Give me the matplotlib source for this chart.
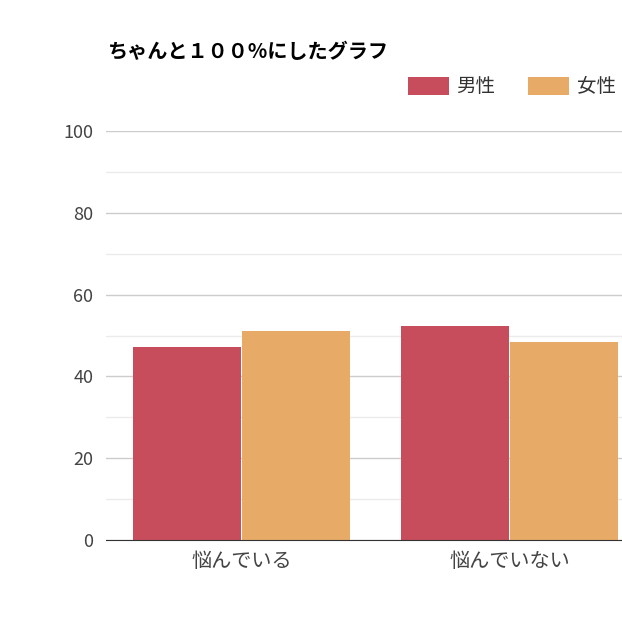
import numpy as np
import matplotlib
matplotlib.use('Agg')
import matplotlib.pyplot as plt
from matplotlib.ticker import MultipleLocator

plt.rcParams['font.family'] = ['Noto Sans CJK JP', 'DejaVu Sans']

categories = ['悩んでいる', '悩んでいない']
male = [47.3, 52.3]
female = [51.1, 48.4]
series_names = ['男性', '女性']
colors = ['#c74d5c', '#e8ab67']

fig = plt.figure(figsize=(6.22, 6.4), dpi=100)
ax = fig.add_axes([106 / 622, 100 / 640, 516 / 622, 409 / 640])

x = np.arange(len(categories))
w = 0.402
ax.bar(x - w / 2 - 0.002, male, w, color=colors[0], label=series_names[0], zorder=3)
ax.bar(x + w / 2 + 0.002, female, w, color=colors[1], label=series_names[1], zorder=3)

ax.set_xlim(-0.506, 1.42)
ax.set_ylim(0, 100)
ax.yaxis.set_major_locator(MultipleLocator(20))
ax.yaxis.set_minor_locator(MultipleLocator(10))
ax.grid(True, which='major', axis='y', color='#cccccc', linewidth=1, zorder=0)
ax.grid(True, which='minor', axis='y', color='#ebebeb', linewidth=1, zorder=0)
for s in ['top', 'right', 'left']:
    ax.spines[s].set_visible(False)
ax.spines['bottom'].set_color('#333333')
ax.spines['bottom'].set_zorder(4)
ax.tick_params(axis='both', which='both', length=0, colors='#444444')
ax.tick_params(axis='y', labelsize=13, pad=9)
ax.tick_params(axis='x', labelsize=14.5, pad=8)
ax.set_xticks(x)
ax.set_xticklabels(categories)

fig.text(108 / 622, 1 - 51 / 640, 'ちゃんと１００%にしたグラフ', fontsize=14.5,
         fontweight='bold', color='#000000', va='center', ha='left')

ax.legend(loc='center right', bbox_to_anchor=(616 / 622, 1 - 87 / 640),
          bbox_transform=fig.transFigure, ncol=2, frameon=False,
          fontsize=14, handlelength=2.1, handleheight=1.0,
          columnspacing=1.7, handletextpad=0.4, borderpad=0, borderaxespad=0,
          labelcolor='#333333')

fig.savefig('out.png', dpi=100)
